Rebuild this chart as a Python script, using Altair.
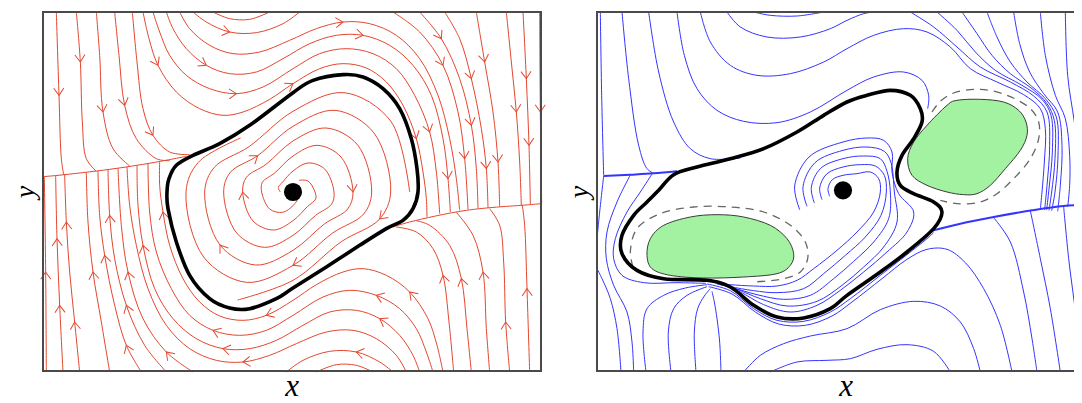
import math
import altair as alt
import pandas as pd

# ---------------- data (grid units: 3 per pixel, V grows downward) ----------------
# left panel: red streamlines
RED_LINES = {
    "D1": [(40,0),(48,250),(55,440),(62,488)],
    "D2": [(100,0),(112,150),(118,330),(130,440),(160,478)],
    "D3": [(160,0),(170,130),(180,300),(210,410),(260,462)],
    "D4": [(215,0),(228,130),(245,280),(280,380),(340,440),(380,446)],
    "A0": [(268,0),(282,150),(300,290),(330,370),(380,420),(440,428)],
    "A1": [(300,0),(318,80),(345,160),(400,240),(470,290),(540,310),(600,300),(680,262),(750,215),(830,170),(900,155),(970,168),(1030,210),(1080,280),(1120,380),(1140,480),(1150,560),(1152,615)],
    "A2": [(330,0),(350,60),(380,130),(430,190),(500,230),(580,245),(660,225),(750,170),(830,125),(910,110),(990,125),(1060,170),(1115,250),(1160,360),(1180,480),(1190,605)],
    "A3": [(370,0),(390,50),(430,110),(490,160),(560,185),(640,180),(720,140),(800,95),(880,70),(960,70),(1040,100),(1110,160),(1165,250),(1200,380),(1215,500),(1222,600)],
    "A4": [(410,0),(440,50),(500,100),(570,125),(650,120),(740,85),(820,50),(900,30),(980,35),(1060,70),(1130,140),(1185,250),(1220,380),(1240,500),(1250,595)],
    "A5": [(450,0),(490,30),(560,60),(640,62),(720,35),(770,0)],
    "A6": [(510,0),(560,20),(620,22),(680,0)],
    "R1": [(1050,0),(1130,60),(1200,160),(1245,300),(1265,440),(1275,592)],
    "R2": [(1130,0),(1195,80),(1250,200),(1285,340),(1300,470),(1305,590)],
    "R3": [(1205,0),(1250,80),(1285,200),(1315,350),(1330,470),(1335,588)],
    "R4": [(1300,0),(1325,150),(1350,300),(1365,450),(1370,585)],
    "R5": [(1390,0),(1405,150),(1420,300),(1430,450),(1435,581)],
    "R6": [(1440,0),(1450,200),(1458,400),(1462,578)],
    "R7": [(1490,0),(1492,300),(1496,575)],
    "D1b": [(1460,1080),(1452,830),(1445,640),(1438,580)],
    "D2b": [(1400,1080),(1388,930),(1382,750),(1370,640),(1340,590)],
    "D3b": [(1340,1080),(1330,950),(1320,780),(1290,670),(1240,601)],
    "D4b": [(1285,1080),(1272,950),(1255,800),(1220,700),(1160,640),(1120,626)],
    "A0b": [(1232,1080),(1218,930),(1200,790),(1170,710),(1120,660),(1060,645)],
    "A1b": [(1200,1080),(1182,1000),(1155,920),(1100,840),(1030,790),(960,770),(900,780),(820,818),(750,865),(670,910),(600,925),(530,912),(470,870),(420,800),(380,700),(360,600),(350,520),(350,450)],
    "A2b": [(1170,1080),(1150,1020),(1120,950),(1070,890),(1000,850),(920,835),(840,855),(750,910),(670,955),(590,970),(510,955),(440,910),(385,830),(340,720),(320,600),(315,455)],
    "A3b": [(1130,1080),(1110,1030),(1070,970),(1010,920),(940,895),(860,900),(780,940),(700,985),(620,1010),(540,1010),(460,980),(390,920),(335,830),(300,700),(285,580),(282,460)],
    "A4b": [(1090,1080),(1060,1030),(1000,980),(930,955),(850,960),(760,995),(680,1030),(600,1050),(520,1045),(440,1010),(370,940),(315,830),(280,700),(260,580),(252,465)],
    "A5b": [(1050,1080),(1010,1050),(940,1020),(860,1018),(780,1045),(730,1080)],
    "A6b": [(990,1080),(940,1060),(880,1058),(820,1080)],
    "R1b": [(450,1080),(370,1020),(300,920),(255,780),(235,640),(225,468)],
    "R2b": [(370,1080),(305,1000),(250,880),(215,740),(200,610),(195,473)],
    "R3b": [(295,1080),(250,1000),(215,880),(185,730),(170,610),(165,477)],
    "R4b": [(200,1080),(175,930),(150,780),(135,630),(130,482)],
    "R5b": [(110,1080),(95,930),(80,780),(70,630),(65,488)],
    "R6b": [(60,1080),(50,880),(42,680),(38,491)],
    "R7b": [(10,1080),(8,780),(4,494)],
    "sepL": [(0,494),(45,490),(200,472),(330,452),(430,433)],
    "sepR": [(1494,575),(1460,578),(1270,595),(1100,630),(1050,645)],
    "armA": [(712,540),(706,526),(720,509),(750,477),(795,453),(845,471),(873,540),(866,576),(818,610),(750,670),(665,706),(581,663),(542,540),(562,481),(644,431),(750,343),(876,295),(993,363),(1043,540),(1010,621),(895,689),(750,805),(584,864)],
    "armB": [(768,505),(795,507),(816,540),(818,561),(793,584),(750,626),(692,654),(630,627),(599,540),(610,496),(669,457),(750,387),(849,348),(944,399),(986,540),(962,606),(869,663),(750,760),(611,811),(482,735),(429,540),(466,451),(593,378)],
    "armC": [(767,558),(750,581),(719,601),(680,591),(656,540),(658,511),(695,483),(750,432),(822,400),(894,435),(930,540),(914,591),(844,636),(750,715),(638,759),(531,699),(485,540),(514,466),(618,404),(750,298),(903,242),(1043,327),(1100,540)],
}
# vertices of the red lines that carry a flow arrow
RED_ARROWS = {
    "D1": [1], "D2": [1], "D3": [2], "D4": [2], "A0": [3],
    "A1": [2, 8, 14], "A2": [5, 13], "A3": [3, 9, 14], "A4": [7], "A5": [2],
    "R1": [2, 4], "R2": [1, 3], "R3": [2, 4], "R4": [1, 3], "R5": [2], "R6": [1, 2], "R7": [1],
    "D1b": [1], "D2b": [1], "D3b": [2], "D4b": [2], "A0b": [2],
    "A1b": [3, 9, 15], "A2b": [4, 10], "A3b": [3, 9, 13], "A4b": [7], "A5b": [2],
    "R1b": [1, 3], "R2b": [2, 4], "R3b": [1, 3], "R4b": [2], "R5b": [1, 3], "R6b": [1, 2], "R7b": [1],
    "armA": [14, 19], "armB": [8, 17], "armC": [10, 15],
}
LIMIT_CYCLE_L = [(372,540),(378,500),(400,460),(450,430),(530,395),(620,340),(750,242),(810,205),(900,188),(960,195),(1020,230),(1070,290),(1105,380),(1122,470),(1125,540),(1110,590),(1080,625),(1030,650),(950,700),(850,765),(750,828),(700,860),(620,890),(560,888),(500,860),(440,790),(400,690),(375,590)]

# right panel: blue streamlines
BLUE_LINES = {
    "edgeT": [(10,0),(14,250),(20,490)],
    "edgeB": [(20,492),(8,600),(0,680)],
    "L1": [(75,0),(95,200),(125,400),(150,470),(170,484)],
    "L2": [(155,0),(185,180),(230,330),(280,410),(340,440),(430,438)],
    "a": [(240,0),(262,130),(300,230),(360,295),(440,328),(540,332),(640,300),(750,235),(830,195),(920,180),(975,205),(995,250),(992,290)],
    "b": [(310,0),(340,90),(400,160),(480,190),(580,185),(680,150),(750,110),(830,70),(920,50),(990,60),(1060,105),(1120,170),(1200,210),(1280,248),(1330,290),(1345,350),(1342,450),(1335,540),(1330,592)],
    "c": [(390,0),(430,45),(510,75),(610,75),(700,50),(750,25),(800,5),(830,0)],
    "d": [(470,0),(520,10),(600,12),(680,0)],
    "f1": [(940,0),(1010,45),(1080,105),(1150,165),(1240,210),(1310,252),(1350,300),(1358,400),(1350,520),(1343,593)],
    "f2": [(1020,0),(1080,55),(1135,120),(1195,175),(1275,220),(1335,262),(1362,310),(1366,420),(1356,530),(1349,594)],
    "f3": [(1095,0),(1140,65),(1185,130),(1240,185),(1305,230),(1350,275),(1372,325),(1374,440),(1364,540),(1356,595)],
    "f4": [(1170,0),(1200,75),(1240,150),(1290,210),(1345,260),(1378,315),(1383,430),(1374,540),(1364,596)],
    "f5": [(1250,0),(1268,95),(1298,180),(1340,245),(1382,300),(1395,400),(1390,520),(1382,598)],
    "f6": [(1330,0),(1345,130),(1375,250),(1405,320),(1418,430),(1418,520),(1412,585)],
    "f7": [(1405,0),(1412,190),(1432,330),(1447,450),(1452,579)],
    "f8": [(1460,0),(1462,200),(1470,400),(1475,577)],
    "br1": [(1400,585),(1415,740),(1440,940),(1450,1080)],
    "br2": [(1300,596),(1330,740),(1360,890),(1390,1080)],
    "br3": [(1190,617),(1240,690),(1280,840),(1305,980),(1320,1080)],
    "nb1": [(330,816),(400,836),(470,890),(540,925),(620,928),(700,900),(760,860),(850,790),(930,728),(990,680),(1010,662)],
    "arc1": [(335,824),(405,846),(475,900),(545,936),(625,940),(705,912),(765,870),(855,800),(930,742),(990,712),(1050,712),(1105,752),(1160,830),(1210,940),(1245,1080)],
    "arc2": [(440,1080),(490,1030),(560,995),(640,972),(750,950),(850,893),(950,868),(1030,882),(1090,930),(1130,1010),(1150,1080)],
    "arc3": [(520,1080),(600,1050),(690,1045),(760,1040),(840,1012),(930,998),(1010,1018),(1060,1080)],
    "fl1": [(72,1080),(60,950),(40,860),(15,800),(0,770)],
    "fl2": [(147,1080),(138,960),(150,890),(200,850),(265,828),(330,818)],
    "fl3": [(222,1080),(214,960),(230,890),(270,850),(330,824)],
    "fl4": [(297,1080),(292,960),(302,890),(322,852),(340,830)],
    "fl5": [(372,1080),(368,990),(360,920),(352,870),(345,838)],
    "lo1": [(165,486),(130,540),(90,600),(55,680),(50,740),(75,790),(140,812),(240,812),(327,814)],
    "lo2": [(100,489),(60,570),(30,660),(28,740),(50,820),(90,900),(105,990),(110,1080)],
    "k0": [(698,553),(693,530),(706,503),(738,490),(780,485),(820,480),(845,500),(850,540),(830,600),(780,660),(720,715),(650,770),(600,805),(540,822),(470,822),(400,818),(360,814)],
    "k1": [(675,563),(668,528),(689,486),(738,465),(790,458),(835,462),(862,490),(868,540),(852,610),(805,675),(745,730),(680,785),(620,830),(540,842),(470,836),(400,824),(360,816)],
    "k2": [(652,573),(643,526),(671,469),(738,440),(800,432),(850,440),(870,478),(880,540),(875,620),(830,690),(770,748),(710,800),(640,850),(560,862),(480,848),(410,828),(370,818)],
    "k3": [(630,583),(618,524),(654,452),(738,415),(810,405),(862,418),(882,452),(892,540),(900,630),(860,705),(800,765),(735,820),(660,868),(570,882),(490,860),(420,832),(380,820)],
    "k4": [(608,593),(593,522),(636,435),(738,390),(810,378),(860,385),(885,420),(885,480),(905,545),(950,600),(930,660),(870,720),(800,780),(730,835),(660,880),(580,900),(500,878),(430,840),(385,822)],
}
BLUE_THICK = {
    "sepLb": [(20,492),(100,488),(170,484),(240,478)],
    "sepRb": [(1494,577),(1400,582),(1305,595),(1190,615),(1090,635),(1010,655)],
}
LIMIT_CYCLE_R = [(750,270),(810,250),(880,235),(940,250),(970,290),(975,330),(950,380),(915,430),(900,480),(910,520),(950,545),(1010,570),(1035,600),(1010,650),(930,720),(850,780),(750,850),(700,890),(620,918),(540,915),(470,880),(400,825),(330,805),(200,800),(120,775),(75,725),(75,670),(110,610),(150,570),(185,535),(230,488),(300,465),(400,440),(500,410),(600,360),(680,310)]
GREEN_REGIONS = {
    "g1": [(150,730),(160,680),(200,640),(280,615),(360,608),(440,615),(520,640),(570,680),(590,725),(580,760),(540,785),(440,795),(320,798),(220,790),(165,770)],
    "g2": [(1050,280),(1080,265),(1150,262),(1220,270),(1265,295),(1287,330),(1290,370),(1270,415),(1225,470),(1180,520),(1140,545),(1100,548),(1050,540),(990,520),(945,490),(932,440),(950,390),(990,340)],
}
DASHED = {
    "d1": [(108,765),(100,720),(120,650),(190,605),(290,585),(400,585),(500,600),(580,640),(625,690),(632,740),(610,780),(560,800),(470,810)],
    "d2": [(1005,300),(1030,268),(1070,243),(1150,232),(1230,250),(1300,290),(1325,330),(1325,380),(1300,440),(1250,500),(1200,545),(1150,570),(1080,575),(1030,565)],
}
FOCI = {"L": (750, 540), "R": (738, 535)}
PANEL_EXTENT = (0, 1494, 0, 1077)
AXIS_TITLES = [("y", "L", "left"), ("x", "L", "bottom"), ("y", "R", "left"), ("x", "R", "bottom")]

# ---------------- layout / style ----------------
RIGHT_OFFSET = 1662
W, H = 1066, 395
XD = [-105, -105 + 3 * W]
YD = [-12, -12 + 3 * H]
TITLE_POS = {"left": (-27, 540, 270, 28), "bottom": (747, 1152, 0, 31)}
RED = "#e4472f"
BLUE = "#3434ff"
GREEN = "#a2f2a2"
FRAME = "#4a4a4a"
CHEVRON = "M-1,-0.7L0,0L-1,0.7"
SERIF = "Liberation Serif, DejaVu Serif, serif"

OFF = {"L": 0, "R": RIGHT_OFFSET}


def line_rows(lines, panel):
    out = []
    for name, pts in lines.items():
        for i, (u, v) in enumerate(pts):
            out.append({"line": panel + name, "i": i, "x": u + OFF[panel], "y": v})
    return out


def arrow_rows(lines, arrows, panel):
    out = []
    for name, idxs in arrows.items():
        pts = lines[name]
        for j in idxs:
            p = pts[max(j - 1, 0)]
            n = pts[min(j + 1, len(pts) - 1)]
            ang = math.degrees(math.atan2(n[1] - p[1], n[0] - p[0])) % 360
            out.append({"x": pts[j][0] + OFF[panel], "y": pts[j][1], "ang": ang})
    return out


xs = alt.X("x:Q", scale=alt.Scale(domain=XD, nice=False, zero=False), axis=None)
ys = alt.Y("y:Q", scale=alt.Scale(domain=YD, nice=False, zero=False, reverse=True), axis=None)
enc = dict(x=xs, y=ys, detail="line:N", order="i:Q")

red_df = pd.DataFrame(line_rows(RED_LINES, "L"))
blue_df = pd.DataFrame(line_rows(BLUE_LINES, "R"))
bluethick_df = pd.DataFrame(line_rows(BLUE_THICK, "R"))
cyc_df = pd.DataFrame(line_rows({"cL": LIMIT_CYCLE_L}, "L") + line_rows({"cR": LIMIT_CYCLE_R}, "R"))
green_df = pd.DataFrame(line_rows(GREEN_REGIONS, "R"))
dash_df = pd.DataFrame(line_rows(DASHED, "R"))
arrow_df = pd.DataFrame(arrow_rows(RED_LINES, RED_ARROWS, "L"))
foci_df = pd.DataFrame([{"x": u + OFF[p], "y": v} for p, (u, v) in FOCI.items()])
frame_df = pd.DataFrame([{"x": PANEL_EXTENT[0] + OFF[p], "x2": PANEL_EXTENT[1] + OFF[p],
                          "y": PANEL_EXTENT[2], "y2": PANEL_EXTENT[3]} for p in ("L", "R")])
label_df = pd.DataFrame([
    {"t": t, "x": TITLE_POS[side][0] + OFF[p], "y": TITLE_POS[side][1],
     "a": TITLE_POS[side][2], "fs": TITLE_POS[side][3]}
    for t, p, side in AXIS_TITLES
])

red = alt.Chart(red_df).mark_line(color=RED, strokeWidth=1, interpolate="catmull-rom").encode(**enc)
blue = alt.Chart(blue_df).mark_line(color=BLUE, strokeWidth=1, interpolate="catmull-rom").encode(**enc)
bluethick = alt.Chart(bluethick_df).mark_line(color=BLUE, strokeWidth=2, interpolate="catmull-rom").encode(**enc)
green = alt.Chart(green_df).mark_line(fill=GREEN, stroke="#3a3a3a", strokeWidth=1,
                                      interpolate="cardinal-closed").encode(**enc)
dashed = alt.Chart(dash_df).mark_line(color="#666666", strokeWidth=1.3, strokeDash=[8, 6],
                                      interpolate="catmull-rom").encode(**enc)
cycles = alt.Chart(cyc_df).mark_line(color="black", strokeWidth=3.6, interpolate="cardinal-closed").encode(**enc)
arrows = alt.Chart(arrow_df).mark_point(shape=CHEVRON, filled=False, size=210, stroke=RED,
                                        strokeWidth=1, opacity=1).encode(
    x=xs, y=ys, angle=alt.Angle("ang:Q", scale=None))
foci = alt.Chart(foci_df).mark_circle(size=330, color="black", opacity=1).encode(x=xs, y=ys)
frames = alt.Chart(frame_df).mark_rect(filled=False, stroke=FRAME, strokeWidth=2).encode(
    x=xs, x2="x2:Q", y=ys, y2="y2:Q")
labels = alt.Chart(label_df).mark_text(font=SERIF, fontStyle="italic",
                                       baseline="alphabetic", align="center", color="black").encode(
    x=xs, y=ys, text="t:N", angle=alt.Angle("a:Q", scale=None),
    size=alt.Size("fs:Q", scale=None))

chart = alt.layer(red, arrows, blue, bluethick, green, dashed, cycles, foci, frames, labels).properties(
    width=W, height=H, padding=0, autosize=alt.AutoSizeParams(type="none")
).configure_view(stroke=None)

chart.save("out.html", embed_options={"renderer": "svg", "actions": False})
